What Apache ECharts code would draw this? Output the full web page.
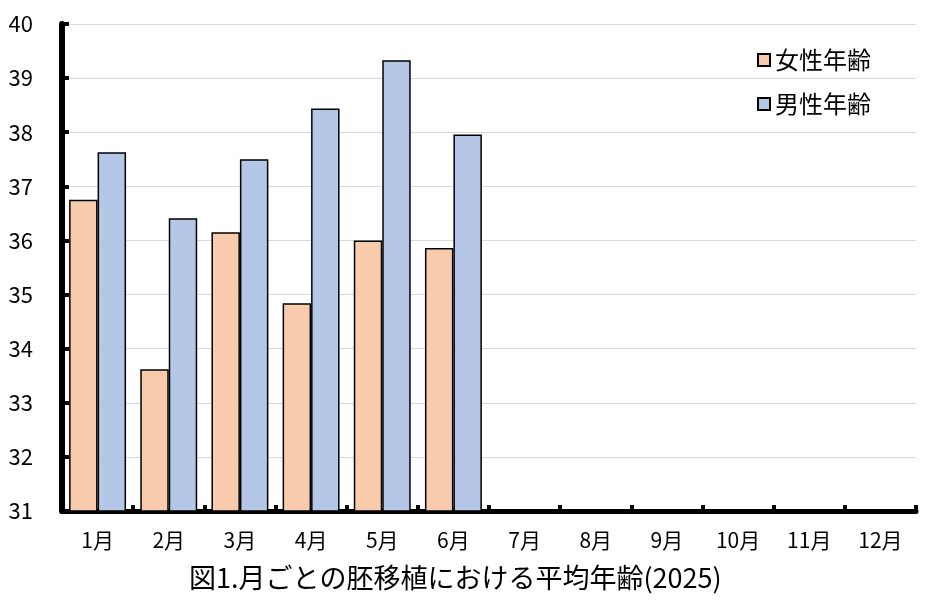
<!DOCTYPE html>
<html>
<head>
<meta charset="utf-8">
<script src="https://cdn.jsdelivr.net/npm/echarts@6/dist/echarts.min.js"></script>
<style>
html,body{margin:0;padding:0;background:#fff;}
#chart{width:934px;height:602px;}
</style>
</head>
<body>
<div id="chart"></div>
<script>
const categories = ['1月','2月','3月','4月','5月','6月','7月','8月','9月','10月','11月','12月'];
const femaleAge = [36.75, 33.62, 36.15, 34.84, 36.00, 35.86, null, null, null, null, null, null];
const maleAge = [37.63, 36.41, 37.50, 38.44, 39.33, 37.96, null, null, null, null, null, null];
const seriesNames = ['女性年齢', '男性年齢'];
const yMin = 31, yMax = 40, yStep = 1;
const titleText = '図1.月ごとの胚移植における平均年齢(2025)';

const FONT = '"Noto Sans CJK JP", "Noto Sans", sans-serif';
const chart = echarts.init(document.getElementById('chart'), null, {renderer: 'canvas'});
chart.setOption({
  animation: false,
  backgroundColor: '#ffffff',
  title: {
    text: titleText,
    left: 189,
    top: 560,
    padding: 0,
    textStyle: {fontFamily: FONT, fontSize: 27, fontWeight: 'normal', color: '#000', lineHeight: 36}
  },
  legend: {
    orient: 'vertical',
    left: 752,
    top: 42,
    itemGap: 18,
    itemWidth: 12,
    itemHeight: 12,
    icon: 'rect',
    textStyle: {fontFamily: FONT, fontSize: 24, color: '#000', lineHeight: 26},
    data: seriesNames
  },
  grid: {left: 62, right: 18, top: 24, bottom: 91, containLabel: false},
  xAxis: {
    type: 'category',
    data: categories,
    axisLine: {lineStyle: {color: '#000', width: 5}},
    axisTick: {show: true, inside: true, length: 6, lineStyle: {color: '#000', width: 4}},
    axisLabel: {fontFamily: FONT, fontSize: 21, color: '#000', margin: 19}
  },
  yAxis: {
    type: 'value',
    min: yMin, max: yMax, interval: yStep,
    axisLine: {show: true, lineStyle: {color: '#000', width: 6}},
    axisTick: {show: true, inside: true, length: 7, lineStyle: {color: '#000', width: 4}},
    axisLabel: {fontFamily: FONT, fontSize: 22, color: '#000', margin: 29},
    splitLine: {lineStyle: {color: '#d9d9d9', width: 1}}
  },
  series: [
    {
      name: seriesNames[0], type: 'bar', data: femaleAge,
      barGap: '0%', barCategoryGap: '20%',
      itemStyle: {color: '#f8cbad', borderColor: '#000', borderWidth: 1.5}
    },
    {
      name: seriesNames[1], type: 'bar', data: maleAge,
      barGap: '0%', barCategoryGap: '20%',
      itemStyle: {color: '#b4c7e7', borderColor: '#000', borderWidth: 1.5}
    }
  ]
});
</script>
</body>
</html>
